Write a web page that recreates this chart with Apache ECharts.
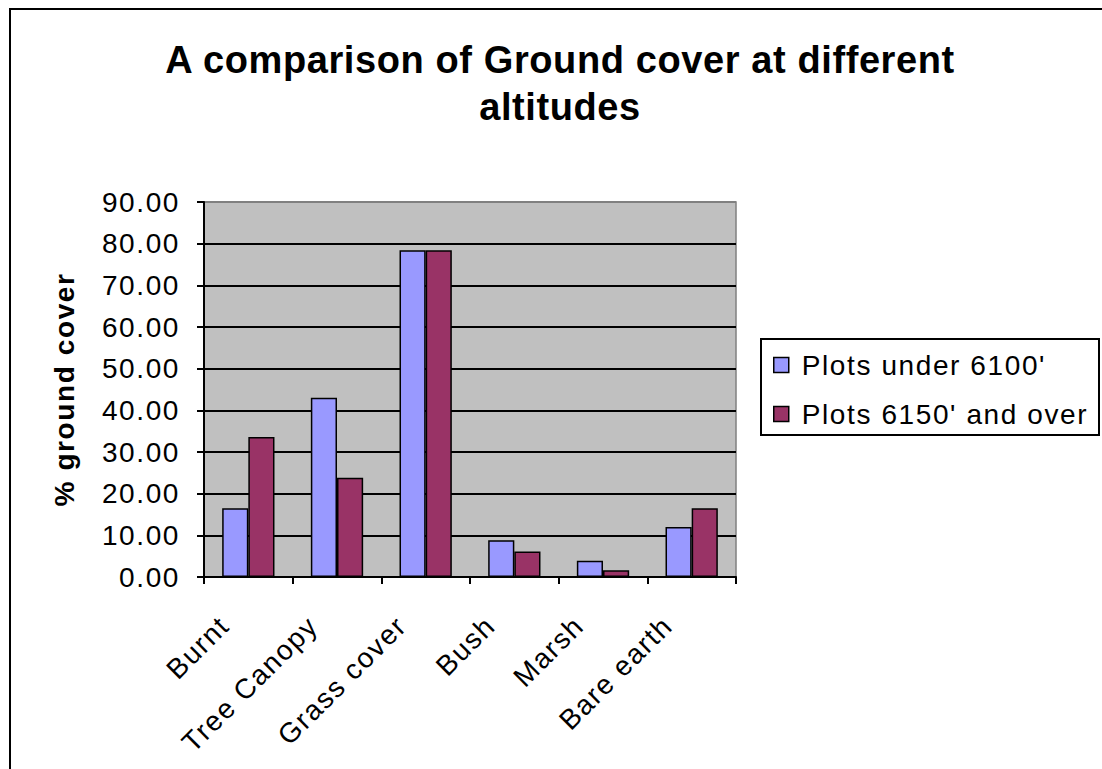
<!DOCTYPE html>
<html>
<head>
<meta charset="utf-8">
<script src="https://cdn.jsdelivr.net/npm/echarts@6/dist/echarts.min.js"></script>
<style>
  html, body { margin: 0; padding: 0; background: #fff; }
  #chart { width: 1102px; height: 769px; }
</style>
</head>
<body>
<div id="chart"></div>
<script>
// Ground cover categories and the percentage recorded for each altitude band
const categories = ['Burnt', 'Tree Canopy', 'Grass cover', 'Bush', 'Marsh', 'Bare earth'];
const under6100 = [16.5, 43.0, 78.4, 8.8, 3.9, 12.0];
const over6150 = [33.6, 23.8, 78.4, 6.1, 1.6, 16.5];
const seriesNames = ["Plots under 6100'", "Plots 6150' and over"];
const yTicks = { min: 0, max: 90, interval: 10 };
const titleText = 'A comparison of Ground cover at different\naltitudes';

const FONT = '"Liberation Sans", Arial, sans-serif';
const chart = echarts.init(document.getElementById('chart'), null, { renderer: 'svg' });

// one colour per horizontal rule (0..90); the top one is the gray plot frame
const gridColors = [];
for (let v = yTicks.min; v <= yTicks.max; v += yTicks.interval) {
  gridColors.push(v === yTicks.max ? '#808080' : '#000000');
}

const barStyle = (color) => ({ color: color, borderColor: '#000', borderWidth: 1.5 });

chart.setOption({
  animation: false,
  backgroundColor: '#ffffff',
  textStyle: { fontFamily: FONT },
  graphic: [
    {
      type: 'rect',
      shape: { x: 10, y: 9, width: 1200, height: 900 },
      style: { fill: 'none', stroke: '#000', lineWidth: 2 },
      silent: true
    },
    {
      // legend frame
      type: 'rect',
      shape: { x: 761, y: 339, width: 338, height: 96 },
      style: { fill: '#fff', stroke: '#000', lineWidth: 2 },
      silent: true,
      z: -1
    },
    {
      type: 'text',
      x: 560, y: 36,
      style: {
        text: titleText,
        textAlign: 'center',
        font: 'bold 38px ' + FONT,
        lineHeight: 47,
        fill: '#000'
      }
    }
  ],
  grid: {
    left: 204, right: 366, top: 202, bottom: 192,
    show: true,
    backgroundColor: '#C0C0C0',
    borderColor: '#808080',
    borderWidth: 1.5
  },
  legend: {
    orient: 'vertical',
    left: 763, top: 351,
    padding: [0, 0, 0, 10],
    itemGap: 21,
    itemWidth: 15, itemHeight: 15,
    icon: 'rect',
    itemStyle: { borderColor: '#000', borderWidth: 1.5 },
    textStyle: { fontSize: 28, color: '#000', fontFamily: FONT, padding: [0, 0, 0, 8] },
    data: seriesNames
  },
  xAxis: {
    type: 'category',
    data: categories,
    axisLine: { lineStyle: { color: '#000', width: 2 } },
    axisTick: { show: true, length: 7, interval: 0, lineStyle: { color: '#000', width: 2 } },
    axisLabel: {
      interval: 0, rotate: 45, fontSize: 28, color: '#000', fontFamily: FONT,
      margin: 20, padding: [0, 34, 0, 0]
    },
    splitLine: { show: false }
  },
  yAxis: {
    type: 'value',
    min: yTicks.min, max: yTicks.max, interval: yTicks.interval,
    name: '% ground cover',
    nameLocation: 'middle',
    nameRotate: 90,
    nameGap: 126,
    nameTextStyle: { fontSize: 28, fontWeight: 'bold', color: '#000', fontFamily: FONT },
    axisLine: { show: true, lineStyle: { color: '#000', width: 2 } },
    axisTick: { show: true, length: 7, lineStyle: { color: '#000', width: 2 } },
    axisLabel: {
      fontSize: 28, color: '#000', fontFamily: FONT, margin: 24,
      formatter: (v) => v.toFixed(2)
    },
    splitLine: { show: true, lineStyle: { color: gridColors, width: 2 } }
  },
  series: [
    {
      name: seriesNames[0], type: 'bar', data: under6100,
      barGap: '0%', barCategoryGap: '41%',
      itemStyle: barStyle('#9999FF')
    },
    {
      name: seriesNames[1], type: 'bar', data: over6150,
      barGap: '0%', barCategoryGap: '41%',
      itemStyle: barStyle('#993366')
    }
  ]
});

// widen the tracking of the drawn labels; the title gets a lighter touch
document.querySelectorAll('#chart svg text').forEach((t) => {
  const isTitle = titleText.indexOf(t.textContent) === 0 || t.textContent === 'altitudes';
  t.style.letterSpacing = isTitle ? '0.6px' : '1.6px';
});
</script>
</body>
</html>
